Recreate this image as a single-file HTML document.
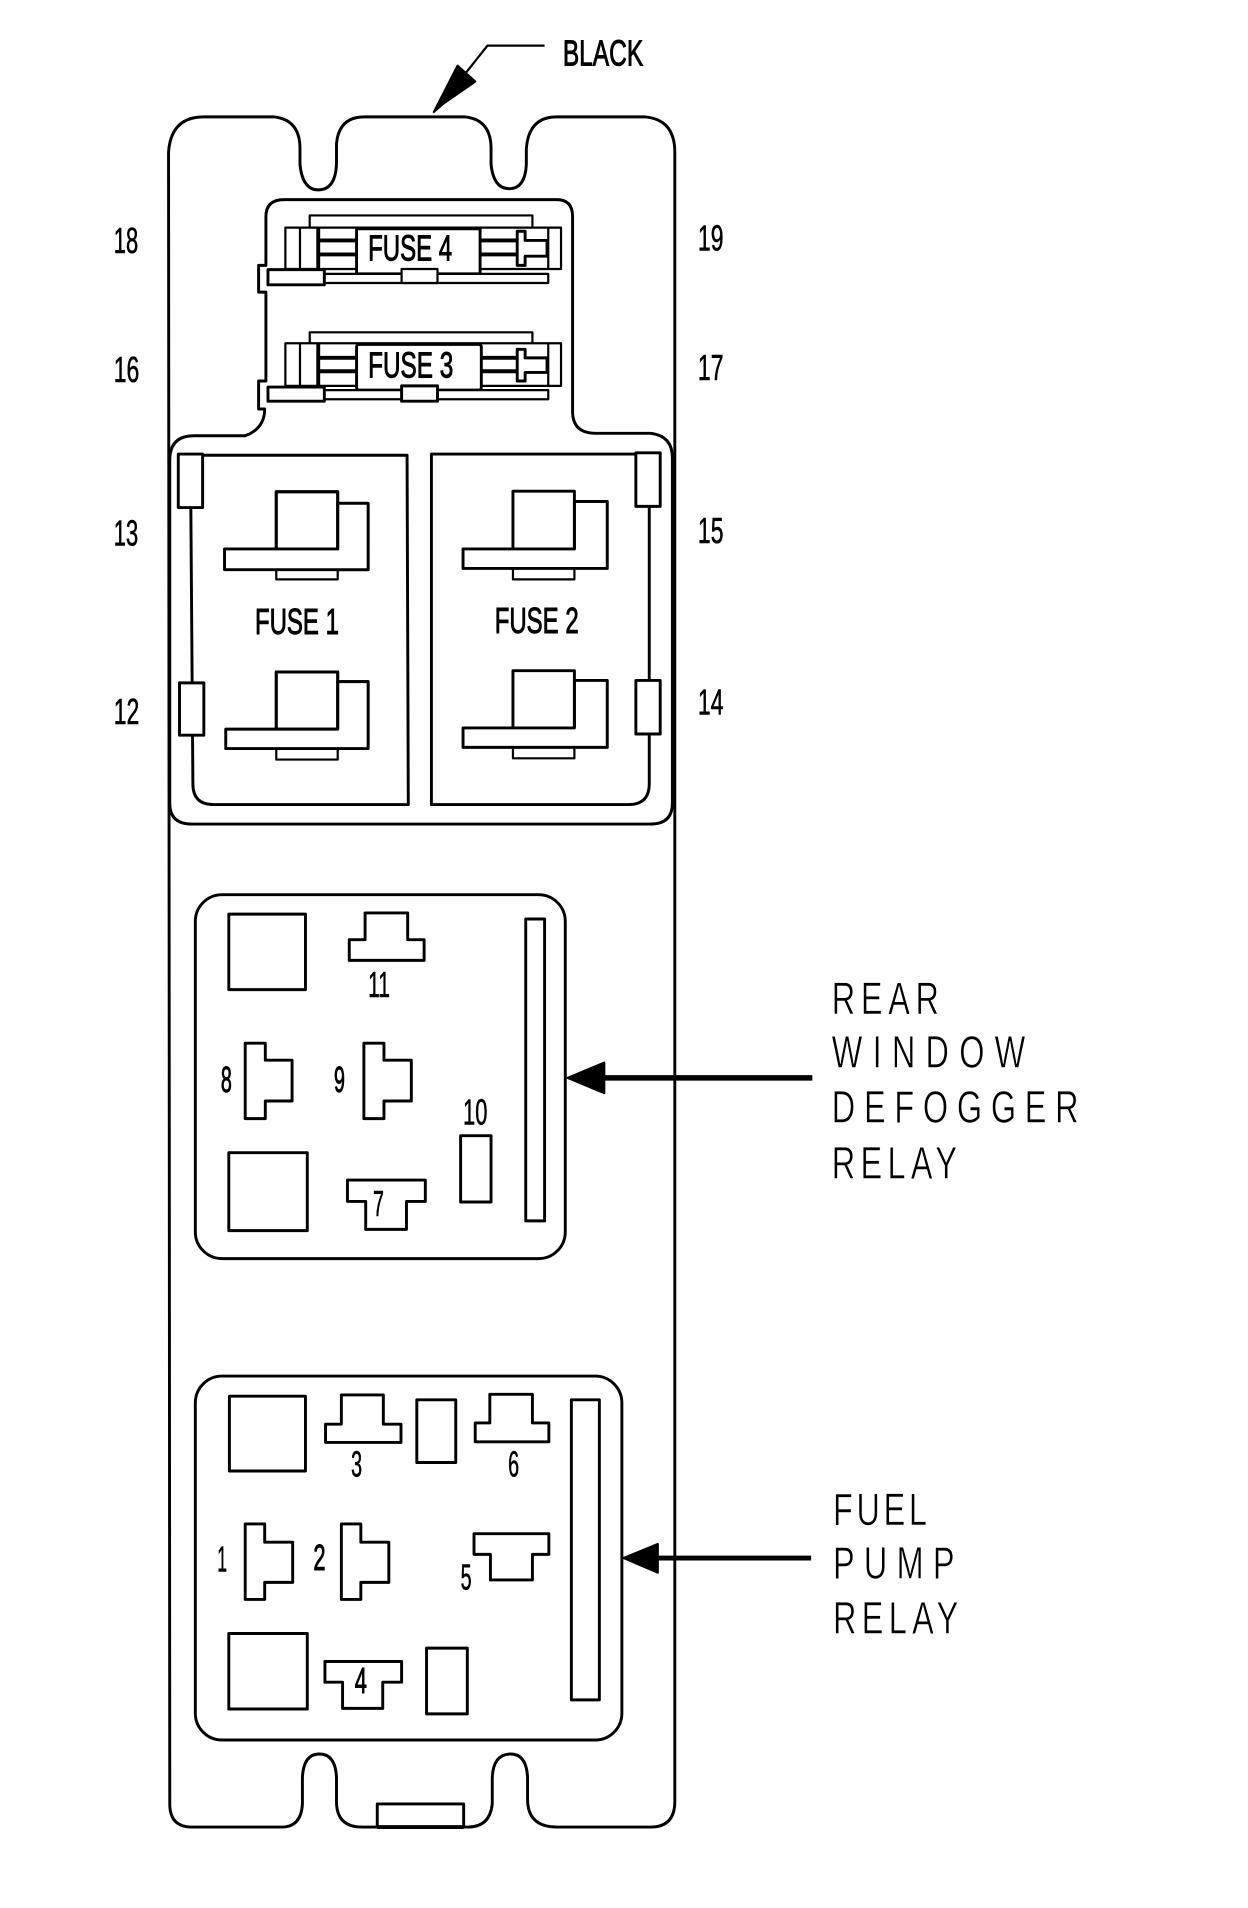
<!DOCTYPE html>
<html>
<head>
<meta charset="utf-8">
<style>
html,body{margin:0;padding:0;background:#fff;width:1248px;height:1908px;overflow:hidden}
svg{display:block}
.s path,.s rect,.s line,.s polyline,.s polygon{fill:#fff;stroke:#000;stroke-width:1.8;stroke-linejoin:round}
.s .n{fill:none}
.s .t{stroke-width:2.4}
.s .h{stroke-width:3.2}
.s .b{fill:#000}
text{font-family:"Liberation Sans",sans-serif;fill:#000;font-size:30px;stroke:#000;stroke-width:.5px}
text.f{stroke-width:.8px}
text.th{font-size:37px;stroke:#fff;stroke-width:.5px}
</style>
</head>
<body>
<svg width="1248" height="1908" viewBox="0.5 0 1025.500 1567.500" preserveAspectRatio="none" xmlns="http://www.w3.org/2000/svg">
<rect x="0" y="0" width="1030" height="1570" fill="#fff"/>
<g class="s">
<!-- Black arrow -->
<polyline class="n" points="448,37.5 401,37.5 380,64"/>
<polygon class="b" points="357,92 376.5,54 391,67 365,85"/>

<!-- Outer body -->
<path class="t" d="M139,125 Q141,96 168,96 L225,96 Q247,98 247,122 L247,135 Q249,156 262,156 Q276,156 277,135 L277,118 Q279,96 300,96 L382,96 Q404,98 404,122 L404,135 Q406,155 419,155 Q432,155 433,135 L433,122 Q435,96 458,96 L530,96 Q555,98 555,125 L555,1480 Q555,1501 535,1501 L458,1501 Q434,1501 434,1478 L434,1460 Q433,1441 420,1441 Q406,1441 405,1460 L405,1482 Q403,1501 385,1501 L298,1501 Q277,1501 277,1480 L277,1460 Q276,1441 263,1441 Q250,1441 249,1460 L249,1482 Q248,1501 232,1501 L158,1501 Q140,1501 140,1482 Z"/>

<!-- Fuse recess and fuse block surround -->
<path class="t" d="M219,178 Q219,164 234,164 L458,164 Q471,164 471,178 L471,338 Q471,356 490,356 L535,356 Q553,358 553,376 L553,660 Q553,677 535,677 L158,677 Q140,677 140,660 L140,378 Q140,358 160,358 L202,358 Q218,352 218,336 L213,336 L213,313 L219,313 L219,240 L213,240 L213,218 L219,218 Z"/>

<!-- Fuse 4 -->
<polyline class="n" points="255,187 255,177 438,177 438,187"/>
<rect x="235" y="187" width="226.500" height="34"/>
<line x1="247" y1="187" x2="247" y2="221"/>
<line class="h" x1="262" y1="187" x2="262" y2="221"/>
<line class="h" x1="262" y1="197.500" x2="294" y2="197.500"/>
<line class="h" x1="262" y1="209" x2="294" y2="209"/>
<line class="h" x1="395" y1="197.500" x2="426" y2="197.500"/>
<line class="h" x1="395" y1="209" x2="426" y2="209"/>
<line x1="451" y1="187" x2="451" y2="221"/>
<rect class="t" x="293.500" y="188" width="101.500" height="37"/>
<path class="t" d="M425.500,190 L432,190 L432,197.500 L450,197.500 L450,210.500 L432,210.500 L432,218 L425.500,218 Z"/>
<rect x="267" y="225" width="184" height="7.500"/>
<rect class="t" x="220.700" y="221.500" width="46.300" height="12.500"/>
<rect x="330.500" y="221" width="29.500" height="11.500"/>

<!-- Fuse 3 -->
<polyline class="n" points="255,282 255,273 438,273 438,282"/>
<rect x="235" y="282" width="226.500" height="35"/>
<line x1="247" y1="282" x2="247" y2="317"/>
<line class="h" x1="262" y1="282" x2="262" y2="317"/>
<line class="h" x1="262" y1="294" x2="294" y2="294"/>
<line class="h" x1="262" y1="305" x2="294" y2="305"/>
<line class="h" x1="395" y1="294" x2="426" y2="294"/>
<line class="h" x1="395" y1="305" x2="426" y2="305"/>
<line x1="451" y1="282" x2="451" y2="317"/>
<rect class="t" x="293.500" y="283" width="102.500" height="37.500" rx="2"/>
<path class="t" d="M425.500,287 L432,287 L432,294 L450,294 L450,306 L432,306 L432,313 L425.500,313 Z"/>
<rect x="267" y="320.500" width="184" height="7.500"/>
<rect class="t" x="220.700" y="318" width="46.300" height="11.600"/>
<rect class="t" x="330.500" y="317" width="29.500" height="12.600"/>

<!-- Fuse 1 panel -->
<path class="t" d="M157,374 L335,374 L336,661 L176,661 Q159,661 159,644 Z"/>
<rect class="t" x="147" y="373" width="20" height="44"/>
<rect class="t" x="148" y="561" width="20" height="43"/>
<rect class="t" x="278" y="413.500" width="25" height="54.500"/>
<rect class="t" x="227.500" y="404" width="50.500" height="47"/>
<rect x="227.500" y="468" width="50.500" height="8"/>
<path class="t" d="M185,451 L278,451 L278,413.500 L303,413.500 L303,468 L185,468 Z"/>
<path class="n t" d="M227.500,451 L227.500,404 L278,404 L278,451"/>
<rect class="t" x="278" y="560" width="25" height="54"/>
<rect class="t" x="227.500" y="552" width="50.500" height="47"/>
<rect x="227.500" y="615" width="50.500" height="9"/>
<path class="t" d="M186,599 L278,599 L278,560 L303,560 L303,615 L186,615 Z"/>
<path class="n t" d="M227.500,599 L227.500,552 L278,552 L278,599"/>

<!-- Fuse 2 panel -->
<path class="t" d="M355,373 L534,373 L534,644 Q534,661 517,661 L355,661 Z"/>
<rect class="t" x="523" y="372" width="20" height="44"/>
<rect class="t" x="523" y="559" width="20" height="44"/>
<rect x="422" y="467" width="50.500" height="9"/>
<path class="t" d="M381,451 L472.500,451 L472.500,412 L499.500,412 L499.500,467 L381,467 Z"/>
<path class="n t" d="M422,451 L422,403.500 L472.500,403.500 L472.500,451"/>
<rect x="422" y="614" width="50.500" height="9"/>
<path class="t" d="M381,598 L472.500,598 L472.500,559 L499.500,559 L499.500,614 L381,614 Z"/>
<path class="n t" d="M422,598 L422,551 L472.500,551 L472.500,598"/>

<!-- Rear window defogger relay -->
<rect class="t" x="161" y="735" width="304" height="299" rx="22" ry="22"/>
<rect class="t" x="188.500" y="751" width="63" height="62"/>
<rect class="t" x="188.500" y="947" width="64.500" height="64"/>
<polygon class="t" points="300.500,750 335.500,750 335.500,772 349,772 349,789 287.500,789 287.500,772 300.500,772"/>
<polygon class="t" points="202,857 218.500,857 218.500,871 240.500,871 240.500,904.500 218.500,904.500 218.500,919 202,919"/>
<polygon class="t" points="299.500,857 316,857 316,871 338.500,871 338.500,904.500 316,904.500 316,919 299.500,919"/>
<rect class="t" x="379" y="933" width="25" height="54.500"/>
<polygon class="t" points="286,969.500 350,969.500 350,987 334.500,987 334.500,1010 301,1010 301,987 286,987"/>
<rect class="t" x="432.500" y="755" width="15.500" height="248"/>
<line class="h" x1="497" y1="885.500" x2="668" y2="885.500" style="stroke-width:4.500"/>
<polygon class="b" points="467,885.500 497,873 497,898"/>

<!-- Fuel pump relay -->
<rect class="t" x="161" y="1130.500" width="350.500" height="299" rx="22" ry="22"/>
<rect class="t" x="189" y="1147" width="62.500" height="61.500"/>
<rect class="t" x="188.500" y="1342" width="64.500" height="62"/>
<polygon class="t" points="281,1146 315.500,1146 315.500,1170 330,1170 330,1185 268,1185 268,1170 281,1170"/>
<rect class="t" x="343" y="1150" width="32" height="51.500"/>
<polygon class="t" points="403,1145.500 438,1145.500 438,1169 451.500,1169 451.500,1184.500 391,1184.500 391,1169 403,1169"/>
<rect class="t" x="470" y="1150" width="23" height="246.500"/>
<polygon class="t" points="202,1252 218,1252 218,1267 241,1267 241,1300 218,1300 218,1314 202,1314"/>
<polygon class="t" points="281,1252 297,1252 297,1267 320,1267 320,1300 297,1300 297,1314 281,1314"/>
<polygon class="t" points="390,1260 451.500,1260 451.500,1277 438,1277 438,1298 403.500,1298 403.500,1277 390,1277"/>
<polygon class="t" points="267.500,1365 330.500,1365 330.500,1382 315,1382 315,1403.500 282,1403.500 282,1382 267.500,1382"/>
<rect class="t" x="351" y="1354" width="33.500" height="54"/>
<rect class="t" x="310.500" y="1482" width="71" height="19"/>
<line x1="310.500" y1="1501" x2="381.500" y2="1501" class="h"/>
<line class="h" x1="540" y1="1280" x2="667" y2="1280" style="stroke-width:4"/>
<polygon class="b" points="513,1280 541,1268.500 541,1292"/>
</g>

<!-- Labels -->
<text class="f" x="463" y="54" font-size="29" textLength="66" lengthAdjust="spacingAndGlyphs">BLACK</text>
<text x="94" y="208" textLength="20" lengthAdjust="spacingAndGlyphs">18</text>
<text x="574" y="206" textLength="21" lengthAdjust="spacingAndGlyphs">19</text>
<text x="94" y="314" textLength="21" lengthAdjust="spacingAndGlyphs">16</text>
<text x="574" y="312" textLength="21" lengthAdjust="spacingAndGlyphs">17</text>
<text x="94" y="448" textLength="20" lengthAdjust="spacingAndGlyphs">13</text>
<text x="574" y="446" textLength="21" lengthAdjust="spacingAndGlyphs">15</text>
<text x="94" y="595" textLength="21" lengthAdjust="spacingAndGlyphs">12</text>
<text x="574" y="587" textLength="21" lengthAdjust="spacingAndGlyphs">14</text>
<text class="f" x="303" y="214" font-size="28" textLength="69" lengthAdjust="spacingAndGlyphs">FUSE 4</text>
<text class="f" x="303" y="310" font-size="28" textLength="70" lengthAdjust="spacingAndGlyphs">FUSE 3</text>
<text class="f" x="210" y="521" font-size="30" textLength="69" lengthAdjust="spacingAndGlyphs">FUSE 1</text>
<text class="f" x="407" y="520" font-size="30" textLength="69" lengthAdjust="spacingAndGlyphs">FUSE 2</text>
<text x="303" y="819" textLength="18" lengthAdjust="spacingAndGlyphs">11</text>
<text class="f" x="182" y="897" font-size="28" textLength="9" lengthAdjust="spacingAndGlyphs">8</text>
<text class="f" x="275" y="897" font-size="28" textLength="9" lengthAdjust="spacingAndGlyphs">9</text>
<text x="381" y="924" textLength="20" lengthAdjust="spacingAndGlyphs">10</text>
<text x="307" y="999" font-size="28" textLength="9" lengthAdjust="spacingAndGlyphs">7</text>
<text x="289" y="1213" font-size="28" textLength="9" lengthAdjust="spacingAndGlyphs">3</text>
<text x="418" y="1213" font-size="28" textLength="9" lengthAdjust="spacingAndGlyphs">6</text>
<text x="179" y="1291" font-size="26" textLength="8" lengthAdjust="spacingAndGlyphs">1</text>
<text class="f" x="258" y="1290" font-size="28" textLength="10" lengthAdjust="spacingAndGlyphs">2</text>
<text x="379" y="1306" font-size="28" textLength="9" lengthAdjust="spacingAndGlyphs">5</text>
<text class="f" x="292" y="1391" font-size="28" textLength="10" lengthAdjust="spacingAndGlyphs">4</text>

<g transform="translate(684,833) scale(.72,1)"><text class="th" letter-spacing="6.500">REAR</text></g>
<g transform="translate(684,877) scale(.72,1)"><text class="th" letter-spacing="11.700">WINDOW</text></g>
<g transform="translate(684,922) scale(.72,1)"><text class="th" letter-spacing="10">DEFOGGER</text></g>
<g transform="translate(684,968) scale(.72,1)"><text class="th" letter-spacing="6.100">RELAY</text></g>
<g transform="translate(685,1253) scale(.72,1)"><text class="th" letter-spacing="4.200">FUEL</text></g>
<g transform="translate(685,1297) scale(.72,1)"><text class="th" letter-spacing="10.600">PUMP</text></g>
<g transform="translate(685,1342) scale(.72,1)"><text class="th" letter-spacing="6.100">RELAY</text></g>
</svg>
</body>
</html>
